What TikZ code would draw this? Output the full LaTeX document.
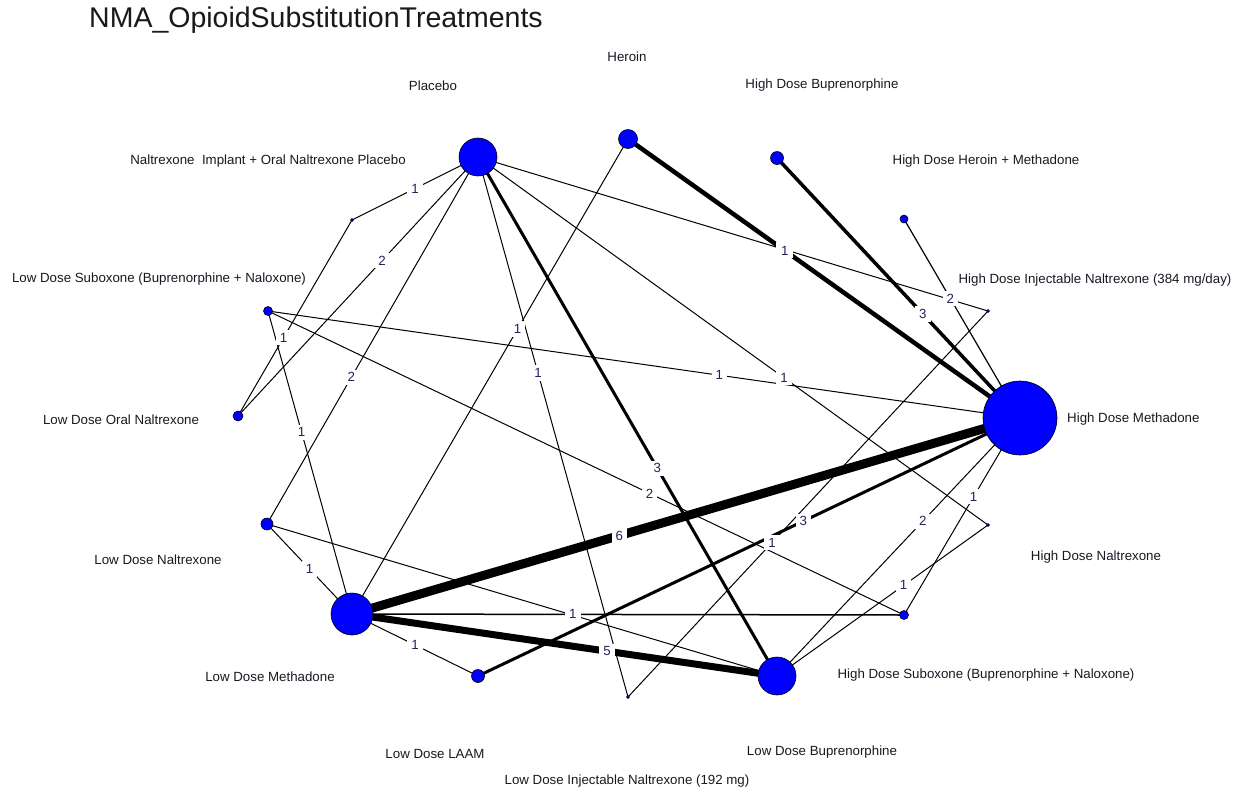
\documentclass[tikz,border=0pt]{standalone}
\usepackage{fontspec}
\setmainfont{Liberation Sans}
\usetikzlibrary{calc}
\pgfdeclarelayer{bg}
\pgfdeclarelayer{mid}
\pgfsetlayers{bg,mid,main}
\definecolor{numcol}{RGB}{35,35,90}
\definecolor{txtcol}{RGB}{25,25,35}
\begin{document}
\begin{tikzpicture}[x=1pt,y=-1pt,
  trt/.style={circle,draw=black,line width=0.6pt,fill=blue,inner sep=0pt,minimum size=#1},
  lbl/.style={font=\fontsize{13.3}{15}\selectfont,text=txtcol,inner sep=0pt},
  cnt/.style={font=\fontsize{13.3}{15}\selectfont,text=numcol,fill=white,inner xsep=4pt,inner ysep=3pt},
  link/.style={draw=black,line width=#1},
  link/.default=1pt]
\useasboundingbox (0,0) rectangle (1255,793);
\begin{pgfonlayer}{bg}
\fill[white] (0,0) rectangle (1255,793);
\end{pgfonlayer}

% title
\node[anchor=west,font=\fontsize{28.5}{30}\selectfont,text=black!90,inner sep=0pt] (title) at (89,20) {NMA\_OpioidSubstitutionTreatments};

% treatment nodes
\node[trt=38pt] (P)   at (478,157) {};
\node[trt=19pt] (H)   at (628,139) {};
\node[trt=13pt] (HB)  at (777,158) {};
\node[trt=8pt]  (HHM) at (904,219) {};
\node[trt=3pt]  (HIN) at (988,311) {};
\node[trt=74pt] (HM)  at (1020,418) {};
\node[trt=3pt]  (HN)  at (988,525) {};
\node[trt=9pt]  (HS)  at (904,615) {};
\node[trt=38pt] (LB)  at (777,676) {};
\node[trt=3pt]  (LIN) at (628,697) {};
\node[trt=13pt] (LL)  at (478,676) {};
\node[trt=42pt] (LM)  at (352,614) {};
\node[trt=12pt] (LN)  at (267,524) {};
\node[trt=10pt] (LON) at (238,416) {};
\node[trt=9pt]  (LS)  at (268,311) {};
\node[trt=3pt]  (NI)  at (352,220) {};

% treatment labels
\node[lbl] (tH)   at (627,57)  {Heroin};
\node[lbl] (tP)   at (433,86)  {Placebo};
\node[lbl] (tHB)  at (822,85)  {High Dose Buprenorphine};
\node[lbl] (tNI)  at (268,161) {Naltrexone\ \ Implant + Oral Naltrexone Placebo};
\node[lbl] (tHHM) at (986,161) {High Dose Heroin + Methadone};
\node[lbl] (tHIN) at (1095,280) {High Dose Injectable Naltrexone (384 mg/day)};
\node[lbl] (tLS)  at (159,279) {Low Dose Suboxone (Buprenorphine + Naloxone)};
\node[lbl,anchor=west] (tHM) at (1067,419) {High Dose Methadone};
\node[lbl] (tLON) at (121,420) {Low Dose Oral Naltrexone};
\node[lbl] (tLN)  at (158,560) {Low Dose Naltrexone};
\node[lbl] (tHN)  at (1096,557) {High Dose Naltrexone};
\node[lbl] (tLM)  at (270,677) {Low Dose Methadone};
\node[lbl] (tHS)  at (986,675) {High Dose Suboxone (Buprenorphine + Naloxone)};
\node[lbl] (tLL)  at (435,754) {Low Dose LAAM};
\node[lbl] (tLB)  at (822,752) {Low Dose Buprenorphine};
\node[lbl] (tLIN) at (627,781) {Low Dose Injectable Naltrexone (192 mg)};

% comparisons
\begin{pgfonlayer}{bg}
\draw[link] (P.center) -- (NI.center);
\draw[link] (P.center) -- (LON.center);
\draw[link] (P.center) -- (LN.center);
\draw[link] (P.center) -- (LIN.center);
\draw[link=3pt] (P.center) -- (LB.center);
\draw[link] (P.center) -- (HN.center);
\draw[link] (P.center) -- (HIN.center);
\draw[link=4.5pt] (H.center) -- (HM.center);
\draw[link] (H.center) -- (LM.center);
\draw[link=3.5pt] (HB.center) -- (HM.center);
\draw[link=1.2pt] (HHM.center) -- (HM.center);
\draw[link] (LS.center) -- (HM.center);
\draw[link] (LS.center) -- (HS.center);
\draw[link] (LS.center) -- (LM.center);
\draw[link] (NI.center) -- (LON.center);
\draw[link] (LN.center) -- (LM.center);
\draw[link] (LN.center) -- (LB.center);
\draw[link=9pt] (LM.center) -- (HM.center);
\draw[link=7pt] (LM.center) -- (LB.center);
\draw[link] (LM.center) -- (LL.center);
\draw[link=1.5pt] (LM.center) -- (HS.center);
\draw[link=3pt] (LL.center) -- (HM.center);
\draw[link] (LIN.center) -- (HIN.center);
\draw[link] (HM.center) -- (HS.center);
\draw[link] (HM.center) -- (LB.center);
\draw[link] (HN.center) -- (LB.center);
\end{pgfonlayer}

% numbers of studies
\begin{pgfonlayer}{mid}
\node[cnt] (n1)  at ($(P.center)!0.5!(NI.center)$) {1};
\node[cnt] (n2)  at ($(P.center)!0.4!(LON.center)$) {2};
\node[cnt] (n3)  at ($(P.center)!0.6!(LN.center)$) {2};
\node[cnt] (n4)  at ($(P.center)!0.4!(LIN.center)$) {1};
\node[cnt] (n5)  at ($(P.center)!0.6!(LB.center)$) {3};
\node[cnt] (n6)  at ($(P.center)!0.6!(HN.center)$) {1};
\node[cnt] (n7)  at ($(P.center)!0.6!(HIN.center)$) {1};
\node[cnt] (n8)  at ($(H.center)!0.4!(HM.center)$) {1};
\node[cnt] (n9)  at ($(H.center)!0.4!(LM.center)$) {1};
\node[cnt] (n10) at ($(HB.center)!0.6!(HM.center)$) {3};
\node[cnt] (n11) at ($(HHM.center)!0.4!(HM.center)$) {2};
\node[cnt] (n12) at ($(LS.center)!0.6!(HM.center)$) {1};
\node[cnt] (n13) at ($(LS.center)!0.6!(HS.center)$) {2};
\node[cnt] (n14) at ($(LS.center)!0.4!(LM.center)$) {1};
\node[cnt] (n15) at ($(NI.center)!0.6!(LON.center)$) {1};
\node[cnt] (n16) at ($(LN.center)!0.5!(LM.center)$) {1};
\node[cnt] (n17) at ($(LN.center)!0.6!(LB.center)$) {1};
\node[cnt] (n18) at ($(LM.center)!0.4!(HM.center)$) {6};
\node[cnt] (n19) at ($(LM.center)!0.6!(LB.center)$) {5};
\node[cnt] (n20) at ($(LM.center)!0.5!(LL.center)$) {1};
\node[cnt] (n21) at ($(LM.center)!0.4!(HS.center)$) {1};
\node[cnt] (n22) at ($(LL.center)!0.6!(HM.center)$) {3};
\node[cnt] (n23) at ($(LIN.center)!0.4!(HIN.center)$) {1};
\node[cnt] (n24) at ($(HM.center)!0.4!(HS.center)$) {1};
\node[cnt] (n25) at ($(HM.center)!0.4!(LB.center)$) {2};
\node[cnt] (n26) at ($(HN.center)!0.4!(LB.center)$) {1};
\end{pgfonlayer}
\end{tikzpicture}
\end{document}
